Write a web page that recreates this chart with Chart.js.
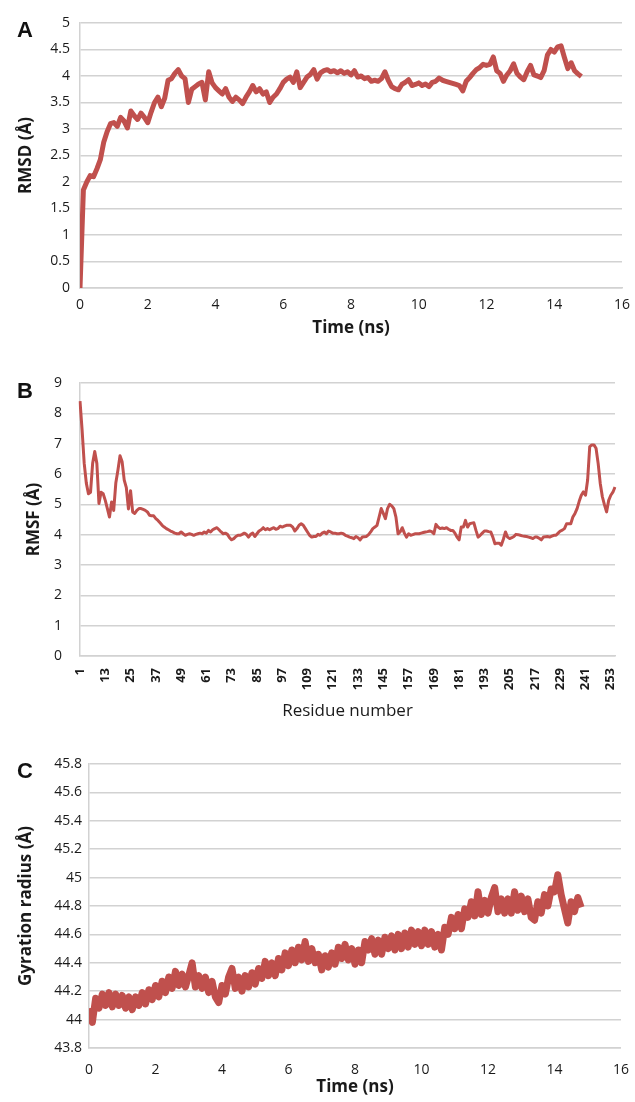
<!DOCTYPE html>
<html>
<head>
<meta charset="utf-8">
<script src="https://cdn.jsdelivr.net/npm/chart.js@4.4.1/dist/chart.umd.min.js"></script>
<style>
  body { margin: 0; background: #fff; width: 635px; height: 1102px; position: relative; overflow: hidden; }
  .panel { position: absolute; left: 0; width: 635px; }
  .tag { position: absolute; left: 17px; font: bold 22px "Liberation Sans", Arial, sans-serif; color: #111; line-height: 1; }
</style>
</head>
<body>
<div class="panel" style="top:0;height:345px"><canvas id="chartA" width="635" height="345"></canvas></div>
<div class="panel" style="top:345px;height:385px"><canvas id="chartB" width="635" height="385"></canvas></div>
<div class="panel" style="top:730px;height:372px"><canvas id="chartC" width="635" height="372"></canvas></div>
<div class="tag" style="top:19px">A</div>
<div class="tag" style="top:380px">B</div>
<div class="tag" style="top:760px">C</div>

<script>
// sampling times (ns), shared by panels A and C
const timeNs = [
  0, 0.1, 0.2, 0.3, 0.4, 0.5, 0.6, 0.7, 0.8, 0.9,
  1, 1.1, 1.2, 1.3, 1.4, 1.5, 1.6, 1.7, 1.8, 1.9,
  2, 2.1, 2.2, 2.3, 2.4, 2.5, 2.6, 2.7, 2.8, 2.9,
  3, 3.1, 3.2, 3.3, 3.4, 3.5, 3.6, 3.7, 3.8, 3.9,
  4, 4.1, 4.2, 4.3, 4.4, 4.5, 4.6, 4.7, 4.8, 4.9,
  5, 5.1, 5.2, 5.3, 5.4, 5.5, 5.6, 5.7, 5.8, 5.9,
  6, 6.1, 6.2, 6.3, 6.4, 6.5, 6.6, 6.7, 6.8, 6.9,
  7, 7.1, 7.2, 7.3, 7.4, 7.5, 7.6, 7.7, 7.8, 7.9,
  8, 8.1, 8.2, 8.3, 8.4, 8.5, 8.6, 8.7, 8.8, 8.9,
  9, 9.1, 9.2, 9.3, 9.4, 9.5, 9.6, 9.7, 9.8, 9.9,
  10, 10.1, 10.2, 10.3, 10.4, 10.5, 10.6, 10.7, 10.8, 10.9,
  11, 11.1, 11.2, 11.3, 11.4, 11.5, 11.6, 11.7, 11.8, 11.9,
  12, 12.1, 12.2, 12.3, 12.4, 12.5, 12.6, 12.7, 12.8, 12.9,
  13, 13.1, 13.2, 13.3, 13.4, 13.5, 13.6, 13.7, 13.8, 13.9,
  14, 14.1, 14.2, 14.3, 14.4, 14.5, 14.6, 14.7, 14.8
];

// A: RMSD (Å)
const rmsd = [
  0, 1.85, 2.0, 2.12, 2.1, 2.25, 2.42, 2.75, 2.95, 3.1,
  3.12, 3.05, 3.22, 3.15, 3.02, 3.34, 3.25, 3.18, 3.3, 3.22,
  3.12, 3.32, 3.5, 3.6, 3.42, 3.58, 3.92, 3.95, 4.05, 4.12,
  4.0, 3.95, 3.5, 3.75, 3.8, 3.85, 3.88, 3.55, 4.08, 3.87,
  3.78, 3.72, 3.66, 3.76, 3.6, 3.52, 3.6, 3.55, 3.48, 3.6,
  3.7, 3.82, 3.7, 3.76, 3.66, 3.7, 3.5, 3.6, 3.66, 3.76,
  3.88, 3.94, 3.98, 3.88, 4.08, 3.78, 3.88, 3.98, 4.03, 4.12,
  3.94, 4.06, 4.1, 4.12, 4.08, 4.1, 4.06, 4.1, 4.05, 4.08,
  4.02, 4.1, 3.98, 4.0, 3.95, 3.97, 3.9, 3.92, 3.9, 3.95,
  4.08, 3.92, 3.8, 3.76, 3.74, 3.84, 3.88, 3.93, 3.82, 3.84,
  3.87, 3.82, 3.85, 3.8, 3.88, 3.9, 3.96, 3.92, 3.9, 3.88,
  3.86, 3.84, 3.82, 3.72, 3.9, 3.97, 4.05, 4.12, 4.16, 4.22,
  4.2, 4.22, 4.36, 4.1, 4.05, 3.9, 4.02, 4.1, 4.23, 4.05,
  3.98, 3.93, 4.08, 4.2, 4.02, 4.0, 3.97, 4.1, 4.4, 4.5,
  4.45, 4.55, 4.57, 4.35, 4.14, 4.25, 4.1, 4.04, 3.99
];

// B: RMSF (Å) per residue 1..255
const rmsf = [
  8.4, 7.45, 6.35, 5.7, 5.35, 5.4, 6.35, 6.74, 6.35, 5.03, 5.4, 5.35,
  5.13, 4.86, 4.58, 5.08, 4.8, 5.7, 6.12, 6.6, 6.4, 5.8, 5.55, 4.85,
  5.45, 4.75, 4.7, 4.8, 4.86, 4.86, 4.83, 4.8, 4.75, 4.64, 4.62, 4.62,
  4.53, 4.47, 4.39, 4.31, 4.25, 4.2, 4.16, 4.12, 4.09, 4.05, 4.03, 4.03,
  4.09, 4.03, 3.98, 4.01, 4.03, 4.01, 3.98, 4.01, 4.03, 4.05, 4.03, 4.09,
  4.05, 4.14, 4.09, 4.16, 4.2, 4.23, 4.16, 4.09, 4.03, 4.05, 4.01, 3.9,
  3.83, 3.87, 3.94, 3.98, 3.98, 4.01, 4.05, 4.01, 3.92, 4.01, 4.05, 3.94,
  4.03, 4.12, 4.16, 4.23, 4.16, 4.2, 4.16, 4.2, 4.23, 4.18, 4.2, 4.28,
  4.25, 4.28, 4.31, 4.31, 4.31, 4.25, 4.12, 4.2, 4.31, 4.36, 4.31, 4.2,
  4.09, 3.98, 3.92, 3.94, 3.94, 4.01, 3.98, 4.05, 4.09, 4.03, 4.12, 4.09,
  4.05, 4.05, 4.03, 4.03, 4.05, 4.03, 3.98, 3.95, 3.92, 3.9, 3.87, 3.94,
  3.9, 3.83, 3.92, 3.93, 3.94, 4.0, 4.09, 4.2, 4.25, 4.31, 4.58, 4.86,
  4.7, 4.53, 4.86, 5.0, 4.95, 4.86, 4.58, 4.03, 4.09, 4.23, 4.05, 3.92,
  4.03, 3.98, 4.0, 4.03, 4.03, 4.03, 4.05, 4.07, 4.09, 4.1, 4.12, 4.1,
  4.03, 4.34, 4.25, 4.2, 4.22, 4.2, 4.23, 4.18, 4.14, 4.14, 4.05, 3.92,
  3.83, 4.25, 4.25, 4.47, 4.25, 4.36, 4.38, 4.39, 4.14, 3.92, 3.98, 4.05,
  4.12, 4.12, 4.1, 4.09, 3.92, 3.7, 3.72, 3.72, 3.65, 3.85, 4.09, 3.92,
  3.87, 3.9, 3.94, 4.01, 4.0, 3.98, 3.96, 3.95, 3.94, 3.92, 3.9, 3.87,
  3.92, 3.92, 3.88, 3.83, 3.92, 3.93, 3.94, 3.92, 3.95, 3.98, 3.98, 4.05,
  4.12, 4.15, 4.2, 4.36, 4.36, 4.36, 4.58, 4.7, 4.86, 5.1, 5.3, 5.41,
  5.3, 5.8, 6.9, 6.96, 6.96, 6.85, 6.35, 5.69, 5.25, 4.98, 4.75, 5.13,
  5.3, 5.4, 5.57
];
const residues = rmsf.map((_, i) => i + 1);

// C: gyration radius (Å)
const gyration = [
  44.08, 43.98, 44.15, 44.08, 44.18, 44.1, 44.19, 44.09, 44.18, 44.1,
  44.17, 44.08, 44.16, 44.07, 44.16, 44.1, 44.19, 44.11, 44.21, 44.14,
  44.24, 44.16, 44.27, 44.19, 44.3, 44.22, 44.34, 44.24, 44.32, 44.23,
  44.31, 44.4, 44.23, 44.31, 44.22, 44.3, 44.19, 44.27, 44.16, 44.12,
  44.24, 44.18, 44.3, 44.36, 44.22, 44.3, 44.2, 44.31, 44.23, 44.33,
  44.25, 44.36, 44.29, 44.41, 44.31, 44.4, 44.31, 44.43, 44.35, 44.47,
  44.38, 44.49, 44.4, 44.51, 44.42, 44.55, 44.41, 44.5, 44.4, 44.46,
  44.35, 44.45, 44.37, 44.47, 44.39, 44.51, 44.43, 44.53, 44.42, 44.5,
  44.39, 44.49, 44.4, 44.55, 44.49, 44.57, 44.46, 44.56, 44.46, 44.58,
  44.5, 44.59, 44.49, 44.6, 44.5, 44.61, 44.51, 44.63, 44.53, 44.62,
  44.52, 44.63, 44.53, 44.62, 44.51, 44.6, 44.49, 44.65, 44.6, 44.72,
  44.64, 44.74, 44.64, 44.78, 44.72, 44.83, 44.73, 44.9, 44.74, 44.84,
  44.75, 44.86, 44.93, 44.76, 44.85, 44.75, 44.85, 44.75, 44.9, 44.77,
  44.87, 44.76, 44.85, 44.72, 44.7, 44.83, 44.75, 44.88, 44.8, 44.92,
  44.9, 45.02, 44.88, 44.78, 44.68, 44.83, 44.76, 44.86, 44.79
];

// tick labels
const timeTicks = [0, 2, 4, 6, 8, 10, 12, 14, 16];
const rmsdTicks = [0, 0.5, 1, 1.5, 2, 2.5, 3, 3.5, 4, 4.5, 5];
const rmsfTicks = [0, 1, 2, 3, 4, 5, 6, 7, 8, 9];
const residueTickLabels = [1, 13, 25, 37, 49, 61, 73, 85, 97, 109, 121, 133, 145, 157, 169, 181, 193, 205, 217, 229, 241, 253];
const gyrationTicks = [43.8, 44, 44.2, 44.4, 44.6, 44.8, 45, 45.2, 45.4, 45.6, 45.8];

const RED = '#c0504d';
const GRID = '#d2d2d2';
const TEXT = '#1a1a1a';
const tickFont = { family: 'Open Sans', size: 14 };
const titleFont = { family: 'Open Sans', size: 17, weight: 'bold' };

// force ticks to the listed values
function fixedTicks(values) {
    return function(scale) { scale.ticks = values.map(v => ({ value: v })); };
}

function timeXAxis(height, tickPad, titleBottom) {
    return {
        type: 'linear', min: 0, max: 16,
        afterBuildTicks: fixedTicks(timeTicks),
        afterFit: function(s) { s.height = height; },
        grid: { display: false },
        border: { color: GRID, width: 1.5 },
        ticks: { font: tickFont, color: TEXT, padding: tickPad, maxRotation: 0, callback: v => String(v) },
        title: { display: true, text: 'Time (ns)', font: titleFont, color: TEXT, padding: { top: 0, bottom: titleBottom } }
    };
}

function valueYAxis(min, max, ticks, width, tickPad, title, titleTop) {
    return {
        min: min, max: max,
        afterBuildTicks: fixedTicks(ticks),
        afterFit: function(s) { s.width = width; },
        grid: { color: GRID, lineWidth: 1.5, drawTicks: false },
        border: { color: GRID, width: 1.5 },
        ticks: { font: tickFont, color: TEXT, padding: tickPad, callback: v => String(v) },
        title: { display: true, text: title, font: titleFont, color: TEXT, padding: { top: titleTop, bottom: 0 } }
    };
}

const baseOptions = {
    responsive: false,
    animation: false,
    events: [],
    plugins: { legend: { display: false }, tooltip: { enabled: false } }
};

// A
new Chart(document.getElementById('chartA'), {
    type: 'line',
    data: {
        datasets: [{
            data: timeNs.map((t, i) => ({ x: t, y: rmsd[i] })),
            borderColor: RED, borderWidth: 5, pointRadius: 0, tension: 0, borderJoinStyle: 'round'
        }]
    },
    options: Object.assign({}, baseOptions, {
        layout: { padding: { top: 23, right: 13, left: 0, bottom: 0 } },
        scales: {
            x: timeXAxis(57, 1, 7),
            y: valueYAxis(0, 5, rmsdTicks, 80, 10, 'RMSD (Å)', 16)
        }
    })
});

// B
new Chart(document.getElementById('chartB'), {
    type: 'line',
    data: {
        labels: residues,
        datasets: [{
            data: rmsf,
            borderColor: RED, borderWidth: 3, pointRadius: 0, tension: 0, borderJoinStyle: 'round'
        }]
    },
    options: Object.assign({}, baseOptions, {
        layout: { padding: { top: 38, right: 20, left: 0, bottom: 0 } },
        scales: {
            x: {
                type: 'category',
                afterBuildTicks: function(s) { s.ticks = residueTickLabels.map(r => ({ value: r - 1 })); },
                afterFit: function(s) { s.height = 74; },
                grid: { display: false },
                border: { color: GRID, width: 1.5 },
                ticks: { font: { family: 'Open Sans', size: 13, weight: 'bold' }, color: TEXT, padding: 4,
                         autoSkip: false, minRotation: 90, maxRotation: 90 },
                title: { display: true, text: 'Residue number', font: { family: 'Open Sans', size: 17 }, color: TEXT,
                         padding: { top: 0, bottom: 9 } }
            },
            y: valueYAxis(0, 9, rmsfTicks, 80, 18, 'RMSF (Å)', 24)
        }
    })
});

// C
new Chart(document.getElementById('chartC'), {
    type: 'line',
    data: {
        datasets: [{
            data: timeNs.map((t, i) => ({ x: t, y: gyration[i] })),
            borderColor: RED, borderWidth: 7, pointRadius: 0, tension: 0, borderJoinStyle: 'round'
        }]
    },
    options: Object.assign({}, baseOptions, {
        layout: { padding: { top: 34, right: 13, left: 0, bottom: 0 } },
        scales: {
            x: timeXAxis(54, 6, 5),
            y: valueYAxis(43.8, 45.8, gyrationTicks, 89, 7, 'Gyration radius (Å)', 16)
        }
    })
});
</script>
</body>
</html>
